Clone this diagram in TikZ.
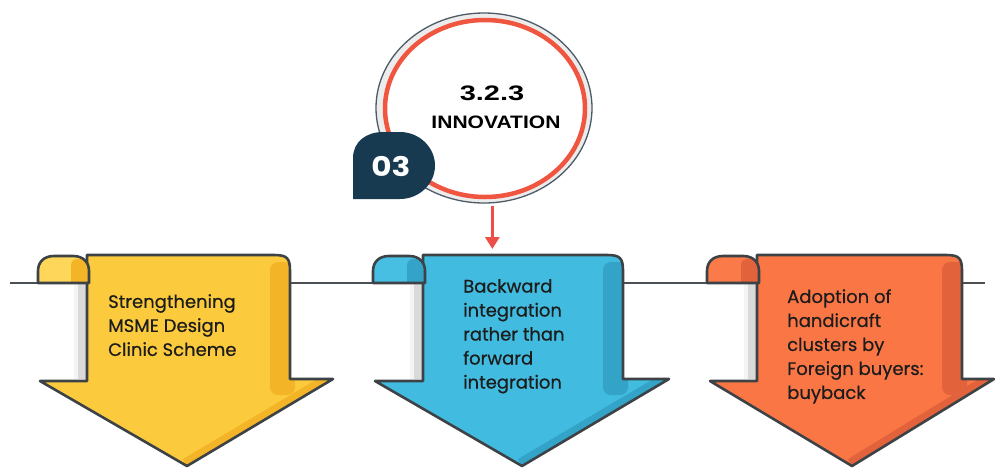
\documentclass[tikz,border=0pt]{standalone}
\usepackage{fontspec}
\setmainfont{Poppins}
\newfontfamily\boxfont{Poppins}[FakeBold=0.5]
\newfontfamily\titlefont{Liberation Sans}
\usetikzlibrary{arrows.meta,shapes.geometric}
\definecolor{outl}{HTML}{3D4246}
\definecolor{hlinec}{HTML}{4A4F54}
\definecolor{stripgray}{HTML}{DADADA}
\definecolor{yelMain}{HTML}{FBCB3D}
\definecolor{yelDark}{HTML}{F4B427}
\definecolor{yelLight}{HTML}{FDD65A}
\definecolor{bluMain}{HTML}{41BCE0}
\definecolor{bluDark}{HTML}{33A3C7}
\definecolor{bluLight}{HTML}{47BFE2}
\definecolor{oraMain}{HTML}{FB7645}
\definecolor{oraDark}{HTML}{E2623B}
\definecolor{oraLight}{HTML}{FB7A49}
\definecolor{ringred}{HTML}{F0553F}
\definecolor{ringgray}{HTML}{4D5B66}
\definecolor{ringfill}{HTML}{ECECEC}
\definecolor{navy}{HTML}{173A50}
\definecolor{arrred}{HTML}{EC4E48}
\definecolor{txt}{HTML}{1C1C1C}
\tikzset{
  outline/.style={draw=outl, line width=2.6pt, line join=round},
  hline/.style={draw=hlinec, line width=2.4pt},
  boxtext/.style={anchor=north west, inner sep=0pt, align=left, text=txt,
    font=\boxfont\fontsize{18}{24}\selectfont},
  redconn/.style={draw=arrred, line width=3.2pt, shorten <=3pt,
    -{Triangle[width=14pt,length=12pt]}},
}
% #1 colour prefix, #2 curl left, #3 shaft left, #4 shaft right,
% #5 head left, #6 head right, #7 tip x
\newcommand{\ScrollArrow}[7]{%
  \def\bodypath{(#3,283) -- (#3,255) -- (#4-16,255) .. controls (#4-3,255) and (#4,258) .. (#4,271) -- (#4,379) -- (#6,379) -- (#7,466) -- (#5,381) -- (#3,381) -- cycle}%
  \def\curlpath{(#2,283) -- (#2,271) .. controls (#2,262) and (#2+6,256) .. (#2+16,256) -- (#3-14,256) .. controls (#3-4,256) and (#3+2,262) .. (#3+2,271) -- (#3+2,283) -- cycle}%
  \fill[stripgray] (#3-13,283) rectangle (#3,379);
  \fill[white!70!stripgray] (#3-13,283) rectangle (#3-9,379);
  \fill[#1Main] \bodypath;
  \begin{scope}
    \clip \bodypath;
    \fill[#1Dark, rounded corners=8pt] (#4-20,262) rectangle (#4+5,395);
    \draw[#1Dark, line width=16pt] (#6,379) -- (#7,466);
  \end{scope}
  \draw[outline] \bodypath;
  \fill[#1Light] \curlpath;
  \begin{scope}
    \clip \curlpath;
    \fill[#1Dark, rounded corners=6pt] (#3-16,259) rectangle (#3+3,295);
  \end{scope}
  \draw[outline] \curlpath;
}
\begin{document}
\begin{tikzpicture}[x=1pt,y=-1pt]
\useasboundingbox (0,0) rectangle (995,467);
\draw[hline] (10,283) -- (985,283);
\ScrollArrow{yel}{38}{87}{290}{40}{333}{187}
\ScrollArrow{blu}{373}{423}{623}{375}{669}{522}
\ScrollArrow{ora}{707}{757}{962}{710}{994}{852}
\node[boxtext] (ytext) at (108,294) {Strengthening\\MSME Design\\Clinic Scheme};
\node[boxtext] (btext) at (463,279) {Backward\\integration\\rather than\\forward\\integration};
\node[boxtext] (otext) at (787,289) {Adoption of\\handicraft\\clusters by\\Foreign buyers:\\buyback};
% circle
\node[ellipse, minimum width=216pt, minimum height=190pt, draw=ringgray,
  line width=1.3pt, fill=ringfill, inner sep=0pt] (circ) at (484,108) {};
\node[ellipse, minimum width=200pt, minimum height=177pt, draw=ringred,
  line width=4.5pt, fill=white, inner sep=0pt] (ring) at (485,108.5) {};
\node[anchor=base, inner sep=0pt, font=\titlefont\bfseries\fontsize{21}{21}\selectfont] (t1) at (492,100) {\scalebox{1.38}[1]{3.2.3}};
\node[anchor=base, inner sep=0pt, font=\titlefont\bfseries\fontsize{18}{18}\selectfont] (t2) at (496,128) {\scalebox{1.17}[1]{INNOVATION}};
% badge
\fill[navy] (353,199) -- (353,158) .. controls (353,142) and (366,132) .. (383,132) -- (400,132) .. controls (419,132) and (435,147) .. (435,165.5) .. controls (435,184) and (419,199) .. (400,199) -- cycle;
\node[inner sep=0pt, text=white, font=\bfseries\fontsize{27}{27}\selectfont] (badge) at (391,166) {\scalebox{1.15}[1]{03}};
% connector
\coordinate (btop) at (493,249);
\draw[redconn] (circ.-85) -- (circ.-85 |- btop);
\end{tikzpicture}
\end{document}
